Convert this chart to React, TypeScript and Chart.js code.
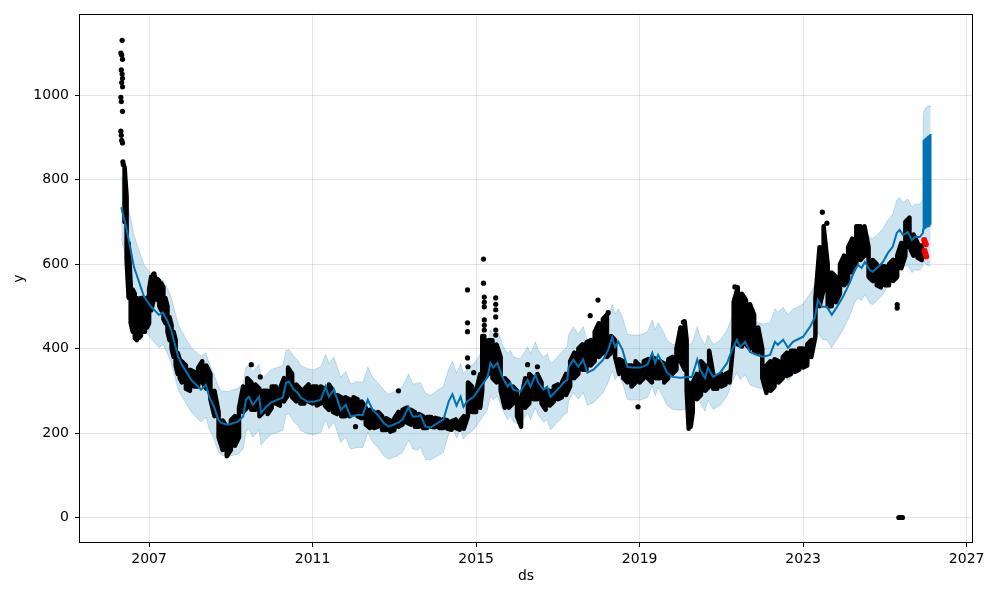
import React, { useEffect, useRef } from 'react';
import { Chart, registerables } from 'chart.js';

Chart.register(...registerables);

// ---- axis ticks ----
const xTicks = [2007, 2011, 2015, 2019, 2023, 2027];
const yTicks = [0, 200, 400, 600, 800, 1000];

// ---- fitted trend (yhat) and uncertainty band ----
const fitYears = [
  2006.32, 2006.44, 2006.63, 2006.88, 2007.05, 2007.24, 2007.34, 2007.46, 2007.54, 2007.71,
  2007.78, 2008.03, 2008.27, 2008.39, 2008.47, 2008.59, 2008.69, 2008.76, 2008.93, 2009.17,
  2009.30, 2009.37, 2009.44, 2009.54, 2009.69, 2009.74, 2009.86, 2009.98, 2010.15, 2010.27,
  2010.35, 2010.42, 2010.54, 2010.64, 2010.71, 2010.88, 2011.03, 2011.20, 2011.32, 2011.40,
  2011.52, 2011.69, 2011.81, 2011.93, 2012.10, 2012.23, 2012.35, 2012.47, 2012.59, 2012.74,
  2012.86, 2013.08, 2013.20, 2013.35, 2013.45, 2013.57, 2013.64, 2013.76, 2013.89, 2014.06,
  2014.20, 2014.33, 2014.42, 2014.52, 2014.62, 2014.69, 2014.79, 2014.94, 2015.03, 2015.11,
  2015.18, 2015.28, 2015.35, 2015.42, 2015.52, 2015.64, 2015.77, 2015.84, 2015.91, 2016.08,
  2016.26, 2016.33, 2016.45, 2016.52, 2016.65, 2016.74, 2016.82, 2016.99, 2017.06, 2017.13,
  2017.23, 2017.26, 2017.38, 2017.50, 2017.62, 2017.72, 2017.87, 2018.11, 2018.23, 2018.33,
  2018.40, 2018.48, 2018.58, 2018.70, 2018.82, 2019.01, 2019.19, 2019.31, 2019.38, 2019.45,
  2019.58, 2019.67, 2019.80, 2019.99, 2020.19, 2020.28, 2020.41, 2020.48, 2020.60, 2020.67,
  2020.80, 2020.97, 2021.14, 2021.26, 2021.38, 2021.46, 2021.58, 2021.70, 2021.87, 2022.02,
  2022.19, 2022.31, 2022.38, 2022.51, 2022.63, 2022.75, 2022.85, 2023.00, 2023.17, 2023.29,
  2023.36, 2023.46, 2023.58, 2023.70, 2023.83, 2023.97, 2024.14, 2024.26, 2024.34, 2024.43,
  2024.51, 2024.63, 2024.70, 2024.83, 2024.95, 2025.07, 2025.19, 2025.29, 2025.36, 2025.44,
  2025.56, 2025.66, 2025.73, 2025.85, 2025.93,
];
const yhatValues = [
  735, 688, 593, 522, 499, 480, 485, 463, 444, 381,
  366, 326, 303, 314, 286, 262, 232, 224, 220, 227,
  239, 279, 286, 267, 286, 248, 262, 272, 279, 284,
  319, 322, 303, 295, 284, 274, 274, 279, 310, 286,
  303, 255, 267, 239, 243, 243, 279, 255, 243, 224,
  215, 224, 232, 262, 239, 239, 243, 215, 213, 224,
  232, 275, 292, 265, 286, 262, 276, 286, 298, 310,
  319, 333, 366, 355, 366, 333, 310, 319, 303, 298,
  326, 310, 338, 319, 303, 310, 286, 303, 310, 319,
  326, 355, 374, 357, 374, 343, 350, 374, 397, 426,
  404, 416, 397, 357, 355, 355, 362, 390, 366, 385,
  362, 343, 333, 331, 333, 333, 374, 350, 330, 355,
  333, 343, 366, 397, 421, 404, 416, 392, 385, 381,
  385, 416, 409, 421, 402, 416, 421, 428, 452, 475,
  515, 499, 499, 480, 499, 522, 556, 586, 598, 591,
  605, 586, 582, 593, 605, 626, 641, 674, 681, 669,
  676, 657, 664, 664, 674,
];
const upperValues = [
  806, 762, 668, 598, 577, 556, 562, 540, 522, 458,
  444, 402, 382, 390, 365, 338, 312, 300, 298, 306,
  316, 356, 360, 346, 362, 326, 338, 350, 356, 360,
  396, 398, 382, 372, 360, 352, 350, 357, 386, 364,
  380, 332, 346, 316, 322, 320, 356, 332, 320, 302,
  292, 302, 310, 340, 316, 318, 320, 294, 290, 302,
  310, 352, 370, 342, 364, 340, 354, 364, 376, 388,
  396, 410, 444, 432, 444, 410, 388, 396, 380, 376,
  404, 388, 416, 396, 380, 388, 364, 380, 388, 396,
  404, 432, 452, 434, 452, 420, 428, 452, 474, 504,
  482, 494, 474, 434, 432, 432, 440, 468, 444, 462,
  440, 420, 410, 408, 410, 412, 452, 428, 408, 432,
  410, 420, 444, 474, 498, 482, 494, 470, 462, 458,
  462, 494, 486, 498, 480, 494, 498, 506, 530, 552,
  592, 578, 576, 558, 576, 600, 634, 664, 676, 668,
  682, 664, 660, 670, 684, 704, 718, 752, 758, 746,
  754, 735, 742, 742, 752,
];
const lowerValues = [
  660, 612, 516, 446, 424, 402, 410, 386, 366, 304,
  290, 250, 226, 238, 210, 186, 156, 148, 144, 150,
  162, 202, 210, 190, 208, 172, 186, 196, 202, 206,
  242, 246, 226, 218, 206, 198, 196, 202, 232, 210,
  226, 178, 190, 162, 166, 166, 202, 178, 166, 146,
  138, 146, 154, 184, 162, 160, 166, 138, 136, 146,
  154, 198, 214, 188, 208, 186, 198, 208, 220, 232,
  242, 256, 288, 278, 288, 256, 232, 242, 226, 220,
  248, 232, 260, 242, 226, 232, 208, 226, 232, 242,
  248, 276, 296, 280, 296, 266, 272, 296, 320, 348,
  326, 338, 320, 280, 278, 278, 284, 312, 288, 308,
  284, 266, 256, 254, 256, 256, 296, 272, 252, 278,
  256, 266, 288, 320, 344, 326, 338, 314, 308, 304,
  308, 338, 332, 344, 324, 338, 344, 350, 374, 398,
  438, 422, 420, 402, 422, 444, 478, 508, 520, 514,
  528, 508, 504, 516, 528, 548, 564, 596, 604, 592,
  598, 580, 586, 586, 596,
];

// ---- forecast tail (dense oscillation at the end) ----
const tailYears = [
  2025.935, 2025.943, 2025.951, 2025.959, 2025.967, 2025.975, 2025.983, 2025.991,
  2025.999, 2026.007, 2026.015, 2026.023, 2026.031, 2026.039, 2026.047, 2026.055,
  2026.063, 2026.071, 2026.079, 2026.087, 2026.095, 2026.103, 2026.111, 2026.119,
];
const tailYhat = [
  682, 893, 684, 895, 685, 896, 686, 898, 687, 899, 688, 900,
  689, 902, 690, 903, 690, 904, 691, 906, 692, 907, 693, 908,
];
const tailUpper = [
  950, 956, 960, 963, 965, 967, 968, 969, 970, 971, 972, 972,
  973, 973, 974, 974, 975, 975, 975, 975, 974, 974, 973, 972,
];
const tailLower = [
  612, 606, 605, 604, 603, 603, 602, 601, 601, 600, 600, 599,
  599, 598, 598, 597, 597, 597, 596, 596, 596, 595, 595, 595,
];

// ---- observed history: low / high envelope per sample ----
const obsYears = [
  2006.40, 2006.45, 2006.50, 2006.55, 2006.60, 2006.65, 2006.70, 2006.75, 2006.80, 2006.85,
  2006.90, 2006.95, 2007.00, 2007.05, 2007.10, 2007.15, 2007.20, 2007.25, 2007.30, 2007.35,
  2007.40, 2007.45, 2007.50, 2007.55, 2007.60, 2007.65, 2007.70, 2007.75, 2007.80, 2007.90,
  2008.00, 2008.10, 2008.20, 2008.30, 2008.40, 2008.50, 2008.60, 2008.70, 2008.80, 2008.90,
  2009.00, 2009.10, 2009.20, 2009.30, 2009.40, 2009.50, 2009.60, 2009.70, 2009.80, 2009.90,
  2010.00, 2010.10, 2010.20, 2010.30, 2010.40, 2010.50, 2010.60, 2010.70, 2010.80, 2010.90,
  2011.00, 2011.10, 2011.20, 2011.30, 2011.40, 2011.50, 2011.60, 2011.70, 2011.80, 2011.90,
  2012.00, 2012.10, 2012.20, 2012.30, 2012.40, 2012.50, 2012.60, 2012.70, 2012.80, 2012.90,
  2013.00, 2013.10, 2013.20, 2013.30, 2013.40, 2013.50, 2013.60, 2013.70, 2013.80, 2013.90,
  2014.00, 2014.10, 2014.20, 2014.30, 2014.40, 2014.50, 2014.60, 2014.70, 2014.80, 2014.90,
  2015.00, 2015.10, 2015.15, 2015.20, 2015.30, 2015.40, 2015.50, 2015.60, 2015.70, 2015.80,
  2015.90, 2016.00, 2016.10, 2016.20, 2016.30, 2016.40, 2016.50, 2016.60, 2016.70, 2016.80,
  2016.90, 2017.00, 2017.10, 2017.20, 2017.30, 2017.40, 2017.50, 2017.60, 2017.70, 2017.80,
  2017.90, 2018.00, 2018.10, 2018.20, 2018.30, 2018.40, 2018.50, 2018.60, 2018.70, 2018.80,
  2018.90, 2019.00, 2019.10, 2019.20, 2019.30, 2019.40, 2019.50, 2019.60, 2019.70, 2019.80,
  2019.90, 2020.00, 2020.10, 2020.15, 2020.20, 2020.25, 2020.30, 2020.40, 2020.50, 2020.60,
  2020.70, 2020.80, 2020.90, 2021.00, 2021.10, 2021.20, 2021.30, 2021.40, 2021.50, 2021.60,
  2021.70, 2021.80, 2021.90, 2022.00, 2022.10, 2022.20, 2022.30, 2022.40, 2022.50, 2022.60,
  2022.70, 2022.80, 2022.90, 2023.00, 2023.10, 2023.20, 2023.30, 2023.40, 2023.50, 2023.60,
  2023.70, 2023.80, 2023.90, 2024.00, 2024.10, 2024.20, 2024.30, 2024.40, 2024.50, 2024.60,
  2024.70, 2024.80, 2024.90, 2025.00, 2025.10, 2025.20, 2025.30, 2025.40, 2025.50, 2025.60,
  2025.70, 2025.80, 2025.90,
];
const obsLow = [
  700, 610, 520, 460, 440, 425, 420, 425, 430, 440,
  440, 450, 460, 490, 510, 520, 515, 500, 490, 470,
  460, 440, 420, 400, 380, 360, 340, 330, 320, 305,
  300, 310, 310, 320, 305, 280, 240, 190, 160, 145,
  160, 170, 190, 250, 260, 255, 255, 240, 250, 245,
  260, 270, 265, 275, 290, 285, 275, 270, 270, 275,
  270, 265, 270, 265, 255, 250, 245, 240, 240, 240,
  245, 240, 235, 220, 212, 212, 215, 207, 207, 203,
  207, 215, 220, 225, 220, 215, 215, 212, 212, 215,
  214, 212, 212, 210, 208, 212, 208, 210, 240, 250,
  250, 260, 300, 330, 340, 330, 320, 300, 260, 260,
  270, 240, 215, 260, 270, 280, 280, 270, 255, 265,
  275, 280, 285, 290, 310, 330, 340, 350, 350, 360,
  370, 380, 390, 380, 390, 380, 340, 330, 320, 310,
  320, 320, 330, 330, 320, 330, 330, 320, 330, 340,
  350, 370, 350, 300, 210, 215, 250, 280, 290, 300,
  310, 305, 305, 310, 315, 320, 420, 410, 405, 410,
  400, 395, 390, 330, 295, 300, 310, 320, 330, 335,
  340, 345, 350, 355, 360, 380, 430, 500, 540, 500,
  500, 510, 530, 550, 560, 580, 600, 610, 620, 570,
  560, 550, 545, 550, 550, 560, 570, 590, 620, 640,
  620, 615, 610,
];
const obsHigh = [
  830, 760, 650, 550, 540, 530, 520, 515, 520, 520,
  510, 520, 540, 570, 575, 570, 565, 560, 555, 545,
  520, 500, 475, 455, 440, 420, 390, 375, 370, 360,
  350, 345, 355, 370, 360, 340, 300, 250, 230, 215,
  230, 240, 260, 310, 330, 320, 315, 305, 300, 300,
  310, 310, 305, 330, 355, 340, 315, 305, 305, 315,
  310, 310, 310, 305, 315, 300, 290, 285, 285, 280,
  285, 280, 275, 260, 255, 250, 250, 240, 235, 230,
  235, 250, 255, 260, 255, 250, 245, 240, 238, 238,
  236, 233, 233, 230, 228, 232, 228, 240, 320, 310,
  300, 340, 430, 430, 420, 420, 410, 380, 330, 320,
  310, 300, 280, 330, 340, 330, 340, 320, 300, 300,
  310, 315, 320, 340, 370, 390, 400, 410, 415, 420,
  440, 460, 470, 480, 430, 420, 375, 370, 360, 360,
  370, 360, 370, 375, 380, 375, 370, 365, 375, 380,
  400, 450, 465, 420, 320, 300, 320, 340, 370, 360,
  395, 340, 335, 340, 340, 345, 510, 545, 530, 515,
  505, 480, 450, 400, 360, 370, 375, 370, 380, 390,
  395, 395, 400, 400, 410, 420, 520, 640, 690, 600,
  580, 570, 600, 620, 640, 660, 690, 690, 690, 640,
  610, 600, 595, 595, 600, 610, 620, 650, 700, 710,
  670, 650, 645,
];

// ---- isolated observed points ----
const outlierYears = [
  2006.34, 2006.31, 2006.33, 2006.35, 2006.32, 2006.34, 2006.35, 2006.33, 2006.35, 2006.31,
  2006.32, 2006.35, 2006.31, 2006.32, 2006.33, 2006.35, 2006.36, 2006.37,
  2007.12, 2009.50, 2009.72, 2012.05, 2013.10,
  2014.79, 2014.79, 2014.79, 2014.79, 2014.80, 2014.94,
  2015.18, 2015.18, 2015.20, 2015.20, 2015.20, 2015.20, 2015.20, 2015.20,
  2015.48, 2015.48, 2015.48, 2015.48, 2015.48, 2015.48,
  2016.26, 2016.50, 2017.79, 2017.98, 2018.23, 2018.96, 2020.07, 2021.33,
  2023.47, 2023.58, 2025.30, 2025.30,
  2025.34, 2025.37, 2025.40, 2025.43,
];
const outlierValues = [
  1130, 1100, 1095, 1085, 1060, 1050, 1040, 1030, 1020, 995,
  985, 962, 915, 905, 893, 887, 842, 836,
  577, 362, 333, 215, 300,
  539, 461, 440, 378, 357, 343,
  612, 555, 522, 510, 499, 468, 455, 444,
  520, 505, 492, 475, 444, 432,
  362, 357, 478, 515, 485, 262, 463, 546,
  723, 697, 504, 496,
  0, 0, 0, 0,
];

// ---- red test points ----
const testYears = [2025.96, 2025.98, 2026.0, 2025.97, 2025.99, 2026.01];
const testValues = [657, 652, 647, 632, 625, 618];

const BLUE = '#0072B2';
const BAND = 'rgba(0,114,178,0.2)';
const FONT = { family: 'DejaVu Sans', size: 14 };

const framePlugin = {
  id: 'frame',
  afterDatasetsDraw(chart: any) {
    const { ctx, chartArea: a } = chart;
    ctx.save();
    ctx.strokeStyle = '#000';
    ctx.lineWidth = 1;
    ctx.strokeRect(
      Math.round(a.left) - 0.5,
      Math.round(a.top) - 0.5,
      Math.round(a.right - a.left) + 1,
      Math.round(a.bottom - a.top) + 1
    );
    ctx.restore();
  },
};

export default function App() {
  const ref = useRef<HTMLCanvasElement | null>(null);

  useEffect(() => {
    if (!ref.current) return;

    const zip = (xs: number[], ys: number[]) => xs.map((x, i) => ({ x, y: ys[i] }));

    const yhatData = zip(fitYears, yhatValues).concat(zip(tailYears, tailYhat));
    const upperData = zip(fitYears, upperValues).concat(zip(tailYears, tailUpper));
    const lowerData = zip(fitYears, lowerValues).concat(zip(tailYears, tailLower));

    const obsData: { x: number; y: number }[] = [];
    obsYears.forEach((x, i) => {
      if (i % 2 === 0) {
        obsData.push({ x, y: obsLow[i] }, { x, y: obsHigh[i] });
      } else {
        obsData.push({ x, y: obsHigh[i] }, { x, y: obsLow[i] });
      }
    });

    const chart = new Chart(ref.current, {
      type: 'line',
      data: {
        datasets: [
          {
            label: 'test',
            data: zip(testYears, testValues),
            showLine: false,
            pointRadius: 3,
            pointBackgroundColor: '#ff0000',
            pointBorderWidth: 0,
            borderColor: '#ff0000',
            order: 0,
          },
          {
            label: 'upper',
            data: upperData,
            borderColor: BAND,
            backgroundColor: BAND,
            borderWidth: 1,
            pointRadius: 0,
            fill: '+1',
            order: 6,
          },
          {
            label: 'lower',
            data: lowerData,
            borderColor: BAND,
            borderWidth: 1,
            pointRadius: 0,
            fill: false,
            order: 5,
          },
          {
            label: 'yhat',
            data: yhatData,
            borderColor: BLUE,
            borderWidth: 2,
            pointRadius: 0,
            fill: false,
            order: 1,
          },
          {
            label: 'observed',
            data: obsData,
            borderColor: '#000',
            borderWidth: 4.5,
            borderJoinStyle: 'round',
            borderCapStyle: 'round',
            pointRadius: 0,
            fill: false,
            order: 3,
          },
          {
            label: 'observed points',
            data: zip(outlierYears, outlierValues),
            showLine: false,
            pointRadius: 2.6,
            pointBackgroundColor: '#000',
            pointBorderWidth: 0,
            borderColor: '#000',
            order: 2,
          },
        ] as any,
      },
      options: {
        animation: false,
        responsive: false,
        devicePixelRatio: 1,
        events: [],
        layout: { padding: { top: 15, right: 28, bottom: 0, left: 0 } },
        plugins: {
          legend: { display: false },
          tooltip: { enabled: false },
        },
        scales: {
          x: {
            type: 'linear',
            min: 2005.31,
            max: 2027.13,
            afterBuildTicks: (s: any) => {
              s.ticks = xTicks.map((v) => ({ value: v }));
            },
            afterFit: (s: any) => {
              s.height = 58;
            },
            ticks: {
              callback: (v: any) => String(v),
              color: '#000',
              font: FONT,
              padding: 4,
              maxRotation: 0,
              autoSkip: false,
            },
            grid: {
              color: 'rgba(128,128,128,0.2)',
              lineWidth: 1,
              tickColor: '#000',
              tickLength: 5,
              tickWidth: 1,
            },
            border: { display: false },
            title: {
              display: true,
              text: 'ds',
              color: '#000',
              font: FONT,
              padding: { top: 0, bottom: 15 },
            },
          },
          y: {
            type: 'linear',
            min: -58,
            max: 1190,
            afterBuildTicks: (s: any) => {
              s.ticks = yTicks.map((v) => ({ value: v }));
            },
            afterFit: (s: any) => {
              s.width = 80;
            },
            ticks: {
              callback: (v: any) => String(v),
              color: '#000',
              font: FONT,
              padding: 6,
              autoSkip: false,
            },
            grid: {
              color: 'rgba(128,128,128,0.2)',
              lineWidth: 1,
              tickColor: '#000',
              tickLength: 5,
              tickWidth: 1,
            },
            border: { display: false },
            title: {
              display: true,
              text: 'y',
              color: '#000',
              font: FONT,
              padding: { top: 11, bottom: 0 },
            },
          },
        },
      } as any,
      plugins: [framePlugin],
    });

    return () => chart.destroy();
  }, []);

  return (
    <canvas
      ref={ref}
      width={1000}
      height={600}
      style={{ position: 'absolute', left: 0, top: 0, display: 'block', width: 1000, height: 600 }}
    />
  );
}
